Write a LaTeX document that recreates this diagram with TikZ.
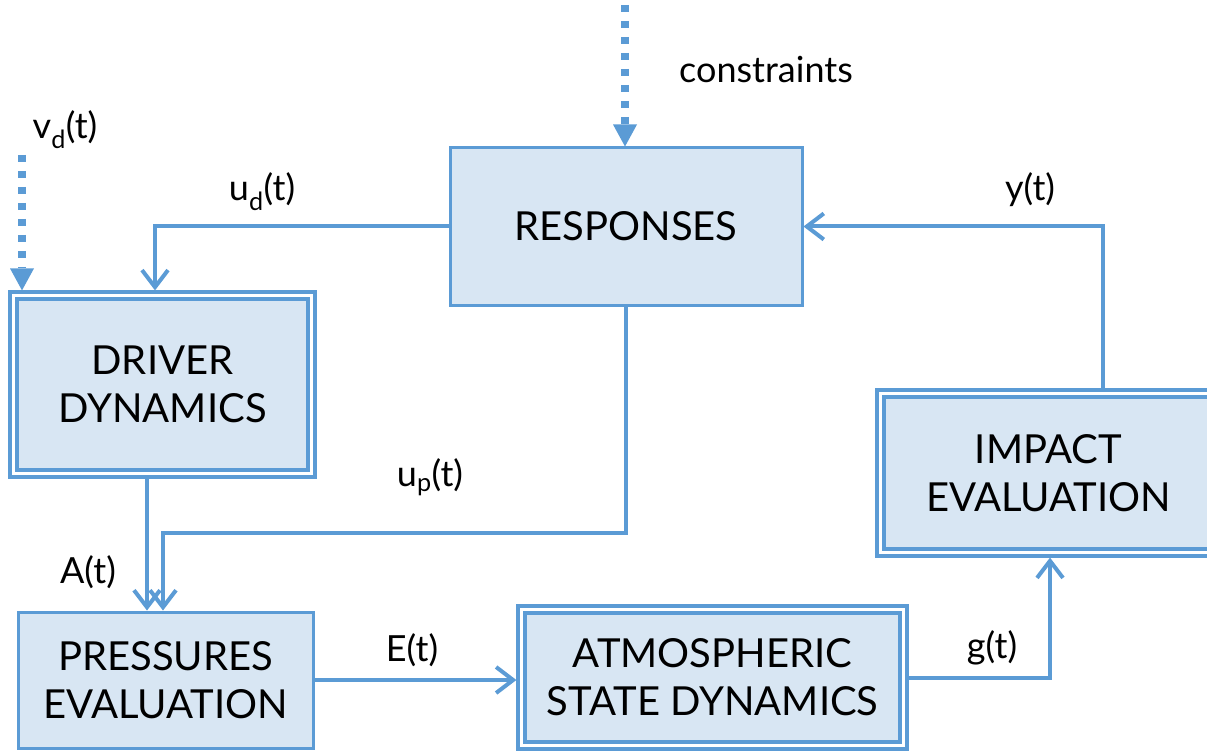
\documentclass[tikz,border=0pt]{standalone}
\usepackage{fontspec}
\setmainfont{Lato}
\usetikzlibrary{arrows.meta}
\definecolor{bl}{RGB}{91,155,213}
\definecolor{fl}{RGB}{216,230,243}
\tikzset{
  boxtext/.style={font=\fontsize{40}{48}\selectfont, align=center, text=black},
  sbox/.style={boxtext, draw=bl, line width=3pt, fill=fl, inner sep=0pt},
  dbox/.style={boxtext, draw=bl, line width=3.2pt, fill=white, inner sep=0pt,
    path picture={\draw[bl, line width=4.5pt, fill=fl]
      ([shift={(7pt,7pt)}]path picture bounding box.south west) rectangle
      ([shift={(-7pt,-7pt)}]path picture bounding box.north east);}},
  conn/.style={draw=bl, line width=4pt, -{Straight Barb[length=17pt, width=26pt, line width=4pt]}},
  dotconn/.style={draw=bl, line width=8pt, dash pattern=on 7pt off 9pt, -{Triangle[length=22pt, width=24pt, line width=0pt]}},
  lbl/.style={font=\fontsize{36}{40}\selectfont, text=black, inner sep=0pt}
}
\begin{document}
\begin{tikzpicture}[x=1pt, y=-1pt]
\useasboundingbox (0,0) rectangle (1207,751);
\clip (0,0) rectangle (1207,751);
% boxes
\node[sbox, minimum width=352pt, minimum height=157pt] (resp) at (626,226.5) {RESPONSES};
\node[dbox, minimum width=305pt, minimum height=185pt] (drv) at (162.5,384.5) {DRIVER\\DYNAMICS};
\node[sbox, minimum width=295pt, minimum height=136pt] (pres) at (165.5,680) {PRESSURES\\EVALUATION};
\node[dbox, minimum width=389pt, minimum height=143pt] (atm) at (712.5,677.5) {ATMOSPHERIC\\STATE DYNAMICS};
\node[dbox, minimum width=343pt, minimum height=166pt] (imp) at (1048.5,473) {IMPACT\\EVALUATION};
% free ends
\coordinate (cin) at (625,5);
\coordinate (vin) at (22,155);
\coordinate (upk) at (163,533);
% connectors
\draw[dotconn] (cin) -- (cin |- resp.north);
\draw[dotconn] (vin) -- (vin |- drv.north);
\draw[conn] (resp.west) -| ([xshift=-7.5pt]drv.north);
\draw[conn] ([xshift=54.5pt]imp.north) |- (resp.east);
\draw[conn] (resp.south) |- (upk) -- (upk |- pres.north);
\draw[conn] ([xshift=-15.5pt]drv.south) -- ([xshift=-18.5pt]pres.north);
\draw[conn] (pres.east) -- (pres.east -| atm.west);
\draw[conn] (atm.east) -| ([xshift=1.5pt]imp.south);
% labels
\node[lbl] (lc) at (766,70) {constraints};
\node[lbl] (lv) at (65,130) {v\textsubscript{d}(t)};
\node[lbl] (lu) at (262,192) {u\textsubscript{d}(t)};
\node[lbl] (ly) at (1030,190) {y(t)};
\node[lbl] (lp) at (430,477) {u\textsubscript{p}(t)};
\node[lbl] (la) at (88,572) {A(t)};
\node[lbl] (le) at (412,650) {E(t)};
\node[lbl] (lg) at (992,648) {g(t)};
\end{tikzpicture}
\end{document}
